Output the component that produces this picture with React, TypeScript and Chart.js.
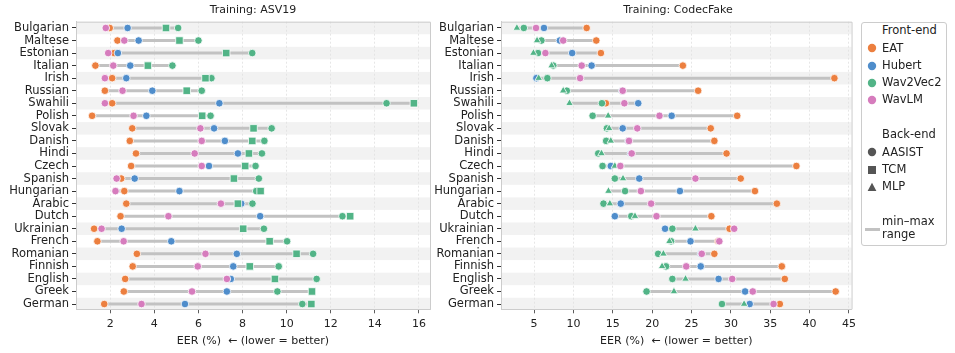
import React, { useEffect, useRef } from 'react';
import { Chart, registerables } from 'chart.js';

Chart.register(...registerables);
Chart.defaults.font.family = "'DejaVu Sans', sans-serif";
Chart.defaults.color = '#222';

const languages = [
  'Bulgarian', 'Maltese', 'Estonian', 'Italian', 'Irish', 'Russian', 'Swahili', 'Polish',
  'Slovak', 'Danish', 'Hindi', 'Czech', 'Spanish', 'Hungarian', 'Arabic', 'Dutch',
  'Ukrainian', 'French', 'Romanian', 'Finnish', 'English', 'Greek', 'German',
];

// Training: ASV19
const asvEAT = [1.98, 2.33, 2.18, 1.33, 2.09, 1.76, 2.09, 1.18, 3.0, 2.89, 3.17, 2.95, 2.5, 2.64, 2.73, 2.47, 1.27, 1.42, 3.21, 3.02, 2.68, 2.62, 1.73];
const asvHubert = [2.79, 3.29, 2.35, 2.91, 2.73, 3.91, 6.95, 3.64, 6.71, 7.2, 7.79, 6.48, 3.11, 5.14, 7.94, 8.8, 2.52, 4.77, 7.74, 7.58, 7.47, 7.29, 5.39];
const asvW2VAasist = [5.08, 6.0, 8.44, 4.82, 6.59, 6.15, 14.53, 6.55, 9.32, 8.99, 8.88, 8.59, 8.74, 8.62, 8.45, 12.53, 8.97, 10.02, 11.2, 9.64, 11.36, 9.58, 10.71];
const asvW2VTcm = [4.53, 5.14, 7.26, 3.71, 6.32, 5.47, 15.77, 6.17, 8.5, 8.44, 8.29, 8.12, 7.61, 8.82, 7.79, 12.88, 8.03, 9.23, 10.45, 8.33, 9.47, 11.15, 11.12];
const asvWavLM = [1.8, 2.64, 1.91, 2.14, 1.76, 2.56, 1.76, 3.06, 6.09, 6.15, 5.83, 6.15, 2.29, 2.24, 7.02, 4.64, 1.61, 2.61, 6.32, 5.97, 7.29, 5.71, 3.42];

// Training: CodecFake
const cfEAT = [11.68, 12.9, 13.49, 23.9, 43.15, 25.84, 14.12, 30.8, 27.44, 27.9, 29.45, 38.32, 31.25, 33.06, 35.84, 27.52, 29.83, 28.4, 27.9, 36.47, 36.85, 43.31, 36.22];
const cfHubert = [6.26, 8.28, 9.84, 12.31, 5.3, 16.2, 18.23, 22.48, 16.26, 17.0, 17.3, 14.75, 18.36, 23.53, 16.01, 15.26, 21.64, 24.87, 26.2, 26.17, 28.44, 31.81, 32.39];
const cfW2VAasist = [3.7, 5.93, 5.5, 7.44, 6.69, 9.16, 13.62, 12.44, 14.25, 14.16, 13.15, 13.7, 15.26, 16.56, 13.82, 17.35, 22.57, 22.4, 20.76, 21.76, 22.57, 19.29, 28.87];
const cfW2VMlp = [2.82, 5.38, 4.92, 7.23, 5.59, 8.7, 9.5, 14.41, 14.54, 14.75, 13.57, 15.26, 16.3, 14.45, 14.63, 17.82, 25.5, 22.19, 21.43, 21.26, 24.24, 22.77, 31.68];
const cfWavLM = [5.25, 8.7, 6.44, 11.05, 10.85, 16.26, 16.47, 20.93, 18.11, 17.06, 17.4, 15.96, 25.5, 18.57, 19.87, 20.55, 30.42, 28.53, 26.3, 24.33, 30.17, 32.78, 35.42];

const asvTicks = [2, 4, 6, 8, 10, 12, 14, 16];
const cfTicks = [5, 10, 15, 20, 25, 30, 35, 40, 45];

const COLORS = {
  EAT: '#ec7f3f',
  Hubert: '#4f8dcb',
  Wav2Vec2: '#52b487',
  WavLM: '#d67cbd',
};
const RANGE_COLOR = '#c2c2c2';
const FRAME_COLOR = '#cccccc';

type Series = { data: number[]; color: string; style: string; radius: number; order: number };

type PanelProps = {
  left: number;
  width: number;
  axisWidth: number;
  rightPad: number;
  xMin: number;
  xMax: number;
  xTicks: number[];
  series: Series[];
};

const PLOT_TOP = 21.7;
const PLOT_BOTTOM = 309.3;
const H = 353;

function Panel(props: PanelProps) {
  const ref = useRef<HTMLCanvasElement | null>(null);
  useEffect(() => {
    if (!ref.current) return;
    const { series } = props;
    const rangeSets = languages.map((_, i) => {
      const vals = series.map((s) => s.data[i]);
      return {
        type: 'scatter' as const,
        data: [
          { x: Math.min(...vals), y: i },
          { x: Math.max(...vals), y: i },
        ],
        showLine: true,
        borderColor: RANGE_COLOR,
        backgroundColor: RANGE_COLOR,
        borderWidth: 3,
        pointRadius: 0,
        order: 10,
      };
    });
    const pointSets = series.map((s) => ({
      type: 'scatter' as const,
      data: s.data.map((v, i) => ({ x: v, y: i })),
      pointStyle: s.style,
      pointRadius: s.radius,
      backgroundColor: s.color,
      borderColor: '#ffffff',
      borderWidth: 0.8,
      order: s.order,
    }));

    const stripes = {
      id: 'stripes',
      beforeDraw(chart: any) {
        const { ctx, chartArea } = chart;
        const ys = chart.scales.y;
        ctx.save();
        ctx.fillStyle = '#f2f2f2';
        languages.forEach((_, i) => {
          if (i % 2 !== 0) return;
          const a = Math.max(ys.getPixelForValue(i - 0.5), chartArea.top);
          const b = Math.min(ys.getPixelForValue(i + 0.5), chartArea.bottom);
          ctx.fillRect(chartArea.left, a, chartArea.right - chartArea.left, b - a);
        });
        ctx.restore();
      },
      afterDraw(chart: any) {
        const { ctx, chartArea } = chart;
        ctx.save();
        ctx.strokeStyle = FRAME_COLOR;
        ctx.lineWidth = 1;
        ctx.beginPath();
        ctx.moveTo(chartArea.left, chartArea.top + 0.5);
        ctx.lineTo(chartArea.right + 0.5, chartArea.top + 0.5);
        ctx.lineTo(chartArea.right + 0.5, chartArea.bottom);
        ctx.stroke();
        ctx.restore();
      },
    };

    const chart = new Chart(ref.current, {
      type: 'scatter',
      data: { datasets: [...rangeSets, ...pointSets] as any },
      options: {
        animation: false,
        responsive: true,
        maintainAspectRatio: false,
        devicePixelRatio: 1,
        layout: { padding: { top: PLOT_TOP, right: props.rightPad, left: 0, bottom: 0 } },
        plugins: { legend: { display: false }, tooltip: { enabled: false }, title: { display: false } },
        scales: {
          x: {
            type: 'linear',
            min: props.xMin,
            max: props.xMax,
            afterBuildTicks: (scale: any) => {
              scale.ticks = props.xTicks.map((v) => ({ value: v }));
            },
            afterFit: (scale: any) => {
              scale.height = H - PLOT_BOTTOM;
            },
            ticks: {
              font: { size: 11 },
              color: '#222',
              padding: 4,
              maxRotation: 0,
              callback: (v: any) => String(v),
            },
            grid: {
              color: '#e0e0e0',
              tickColor: '#333',
              tickLength: 4,
              lineWidth: 0.8,
            },
            border: { color: FRAME_COLOR, dash: [2, 2] },
            title: {
              display: true,
              text: 'EER (%)  \u2190 (lower = better)',
              font: { size: 11 },
              color: '#222',
              padding: { top: 0, bottom: 5 },
            },
          },
          y: {
            type: 'linear',
            reverse: true,
            min: -0.5,
            max: 22.42,
            afterBuildTicks: (scale: any) => {
              scale.ticks = languages.map((_, i) => ({ value: i }));
            },
            afterFit: (scale: any) => {
              scale.width = props.axisWidth;
            },
            ticks: {
              font: { size: 11.5 },
              color: '#222',
              padding: 3,
              autoSkip: false,
              callback: (v: any) => languages[v as number] ?? '',
            },
            grid: {
              drawOnChartArea: false,
              tickColor: '#333',
              tickLength: 4,
            },
            border: { color: FRAME_COLOR },
          },
        },
      },
      plugins: [stripes],
    });
    return () => chart.destroy();
  }, []);
  return (
    <div style={{ position: 'absolute', left: props.left, top: 0, width: props.width, height: H }}>
      <canvas ref={ref} />
    </div>
  );
}

const textStyle: React.CSSProperties = {
  position: 'absolute',
  fontFamily: "'DejaVu Sans', sans-serif",
  color: '#222',
  whiteSpace: 'nowrap',
  lineHeight: 1,
};

function Marker({ shape, color, x, y }: { shape: string; color: string; x: number; y: number }) {
  const s = 10;
  let el: React.ReactNode = null;
  if (shape === 'circle') el = <circle cx={5} cy={5} r={4.2} fill={color} />;
  else if (shape === 'rect') el = <rect x={1} y={1} width={8} height={8} fill={color} />;
  else if (shape === 'triangle') el = <polygon points="5,0.8 9.4,9 0.6,9" fill={color} />;
  return (
    <svg width={s} height={s} style={{ position: 'absolute', left: x - 5, top: y - 5 }}>
      {el}
    </svg>
  );
}

function Legend() {
  const L = 861;
  const T = 22;
  const mx = 871.7;
  const tx = 882;
  const fs = 11.5;
  const items: { y: number; text: string; shape?: string; color?: string }[] = [
    { y: 31, text: 'Front-end' },
    { y: 48.3, text: 'EAT', shape: 'circle', color: COLORS.EAT },
    { y: 65.7, text: 'Hubert', shape: 'circle', color: COLORS.Hubert },
    { y: 83, text: 'Wav2Vec2', shape: 'circle', color: COLORS.Wav2Vec2 },
    { y: 100, text: 'WavLM', shape: 'circle', color: COLORS.WavLM },
    { y: 135, text: 'Back-end' },
    { y: 152.3, text: 'AASIST', shape: 'circle', color: '#555555' },
    { y: 170, text: 'TCM', shape: 'rect', color: '#555555' },
    { y: 187, text: 'MLP', shape: 'triangle', color: '#555555' },
    { y: 221.7, text: 'min\u2013max' },
    { y: 235, text: 'range' },
  ];
  return (
    <>
      <div
        style={{
          position: 'absolute',
          left: L,
          top: T,
          width: 86,
          height: 224,
          border: '1px solid #cccccc',
          borderRadius: 3,
          background: '#fff',
          boxSizing: 'border-box',
        }}
      />
      {items.map((it) => (
        <React.Fragment key={it.text}>
          {it.shape && <Marker shape={it.shape} color={it.color as string} x={mx} y={it.y} />}
          <div style={{ ...textStyle, left: tx, top: it.y - fs * 0.5, fontSize: fs, height: fs }}>{it.text}</div>
        </React.Fragment>
      ))}
      <div style={{ position: 'absolute', left: 865, top: 228, width: 15, height: 3, background: RANGE_COLOR }} />
    </>
  );
}

export default function App() {
  const asvSeries: Series[] = [
    { data: asvEAT, color: COLORS.EAT, style: 'circle', radius: 3.8, order: 4 },
    { data: asvHubert, color: COLORS.Hubert, style: 'circle', radius: 3.8, order: 3 },
    { data: asvW2VAasist, color: COLORS.Wav2Vec2, style: 'circle', radius: 3.8, order: 2 },
    { data: asvW2VTcm, color: COLORS.Wav2Vec2, style: 'rect', radius: 5.3, order: 1 },
    { data: asvWavLM, color: COLORS.WavLM, style: 'circle', radius: 3.8, order: 0 },
  ];
  const cfSeries: Series[] = [
    { data: cfEAT, color: COLORS.EAT, style: 'circle', radius: 3.8, order: 4 },
    { data: cfHubert, color: COLORS.Hubert, style: 'circle', radius: 3.8, order: 3 },
    { data: cfW2VAasist, color: COLORS.Wav2Vec2, style: 'circle', radius: 3.8, order: 2 },
    { data: cfW2VMlp, color: COLORS.Wav2Vec2, style: 'triangle', radius: 4.4, order: 1 },
    { data: cfWavLM, color: COLORS.WavLM, style: 'circle', radius: 3.8, order: 0 },
  ];
  return (
    <div style={{ position: 'absolute', left: 0, top: 0, width: 955, height: 353, background: '#fff' }}>
      <Panel left={0} width={440} axisWidth={76} rightPad={10} xMin={0.45} xMax={16.5} xTicks={asvTicks} series={asvSeries} />
      <Panel left={425} width={435} axisWidth={76} rightPad={5} xMin={0.8} xMax={45.33} xTicks={cfTicks} series={cfSeries} />
      <div style={{ ...textStyle, left: 76, width: 354, top: 4, fontSize: 11, textAlign: 'center' }}>Training: ASV19</div>
      <div style={{ ...textStyle, left: 501, width: 354, top: 4, fontSize: 11, textAlign: 'center' }}>Training: CodecFake</div>
      <Legend />
    </div>
  );
}
